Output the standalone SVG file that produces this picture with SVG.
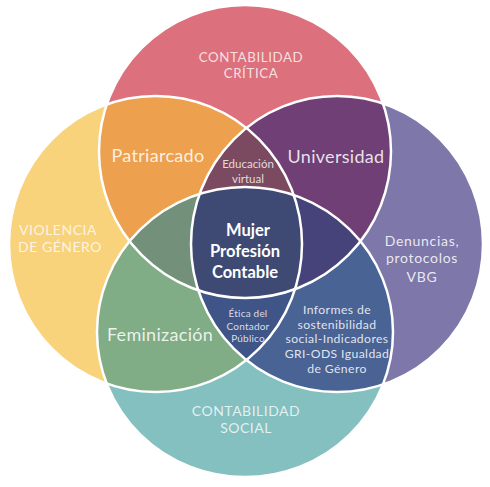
<svg xmlns="http://www.w3.org/2000/svg" width="490" height="487" viewBox="0 0 490 487">
  <style>
    .lbl { font-family: Lato, "Open Sans", "Liberation Sans", sans-serif; fill: #ffffff; text-anchor: middle; }
    .caps { font-size: 13.3px; letter-spacing: 0.6px; fill-opacity: 0.78; }
    .caps2 { font-size: 14px; letter-spacing: 0.5px; fill-opacity: 0.78; }
    .mid { font-size: 18px; letter-spacing: 0.3px; fill-opacity: 0.85; }
    .den { font-size: 14px; letter-spacing: 0.7px; fill-opacity: 0.85; }
    .edu { font-size: 11.5px; fill-opacity: 0.8; }
    .eti { font-size: 10px; letter-spacing: 0.2px; fill-opacity: 0.8; }
    .info { font-size: 12.2px; letter-spacing: 0.4px; fill-opacity: 0.85; }
    .core { font-size: 16.5px; font-weight: 700; }
    .edge { fill: none; stroke: #ffffff; stroke-width: 2.5; }
  </style>
  <defs>
    <ellipse id="eR" cx="245" cy="151.5" rx="146" ry="146.5"/>
    <ellipse id="eY" cx="155.5" cy="244" rx="146.5" ry="148"/>
    <ellipse id="eP" cx="337" cy="244" rx="146" ry="148"/>
    <ellipse id="eT" cx="245" cy="332" rx="148" ry="145"/>
    <clipPath id="cR"><use href="#eR"/></clipPath>
    <clipPath id="cY"><use href="#eY"/></clipPath>
    <clipPath id="cP"><use href="#eP"/></clipPath>
    <clipPath id="cT"><use href="#eT"/></clipPath>
  </defs>

  <!-- single circles -->
  <g id="circle-critica"><use href="#eR" fill="#dc717d"/></g>
  <g id="circle-violencia"><use href="#eY" fill="#f9d27c"/></g>
  <g id="circle-denuncias"><use href="#eP" fill="#7d77aa"/></g>
  <g id="circle-social"><use href="#eT" fill="#84c0c0"/></g>

  <!-- pairwise overlaps -->
  <g id="patriarcado-area" clip-path="url(#cR)"><use href="#eY" fill="#eda04d"/></g>
  <g id="universidad-area" clip-path="url(#cR)"><use href="#eP" fill="#6f3f75"/></g>
  <g id="feminizacion-area" clip-path="url(#cY)"><use href="#eT" fill="#80ac86"/></g>
  <g id="informes-area" clip-path="url(#cP)"><use href="#eT" fill="#4a6395"/></g>

  <!-- triple overlaps -->
  <g id="educacion-area" clip-path="url(#cR)"><g clip-path="url(#cY)"><use href="#eP" fill="#7b4a60"/></g></g>
  <g id="left-triple" clip-path="url(#cR)"><g clip-path="url(#cY)"><use href="#eT" fill="#72907a"/></g></g>
  <g id="right-triple" clip-path="url(#cR)"><g clip-path="url(#cP)"><use href="#eT" fill="#46437a"/></g></g>
  <g id="etica-area" clip-path="url(#cY)"><g clip-path="url(#cP)"><use href="#eT" fill="#3f5487"/></g></g>

  <!-- centre -->
  <g id="core-area" clip-path="url(#cR)"><g clip-path="url(#cY)"><g clip-path="url(#cP)"><use href="#eT" fill="#3e4a73"/></g></g></g>

  <!-- outlines -->
  <g id="outlines">
    <use href="#eR" class="edge"/>
    <use href="#eY" class="edge"/>
    <use href="#eP" class="edge"/>
    <use href="#eT" class="edge"/>
  </g>

  <!-- labels -->
  <g id="label-critica" class="lbl caps">
    <text x="251" y="62">CONTABILIDAD</text>
    <text x="251" y="78">CRÍTICA</text>
  </g>
  <g id="label-violencia" class="lbl caps2">
    <text x="58" y="235">VIOLENCIA</text>
    <text x="60" y="252">DE GÉNERO</text>
  </g>
  <g id="label-social" class="lbl caps2">
    <text x="246" y="416">CONTABILIDAD</text>
    <text x="246" y="433">SOCIAL</text>
  </g>
  <g id="label-denuncias" class="lbl den">
    <text x="422" y="246">Denuncias,</text>
    <text x="422" y="263">protocolos</text>
    <text x="422" y="282">VBG</text>
  </g>
  <g id="label-patriarcado" class="lbl mid"><text x="158" y="162">Patriarcado</text></g>
  <g id="label-universidad" class="lbl mid"><text x="336" y="163">Universidad</text></g>
  <g id="label-feminizacion" class="lbl mid"><text x="160" y="341">Feminización</text></g>
  <g id="label-educacion" class="lbl edu">
    <text x="248" y="168">Educación</text>
    <text x="248" y="183">virtual</text>
  </g>
  <g id="label-core" class="lbl core">
    <text x="248" y="236">Mujer</text>
    <text x="245" y="257">Profesión</text>
    <text x="245" y="278">Contable</text>
  </g>
  <g id="label-etica" class="lbl eti">
    <text x="248" y="317">Ética del</text>
    <text x="248" y="330">Contador</text>
    <text x="248" y="342">Público</text>
  </g>
  <g id="label-informes" class="lbl info">
    <text x="337" y="314">Informes de</text>
    <text x="337" y="328.5">sostenibilidad</text>
    <text x="337" y="343.3">social-Indicadores</text>
    <text x="337" y="358.1">GRI-ODS Igualdad</text>
    <text x="337" y="373">de Género</text>
  </g>
</svg>
